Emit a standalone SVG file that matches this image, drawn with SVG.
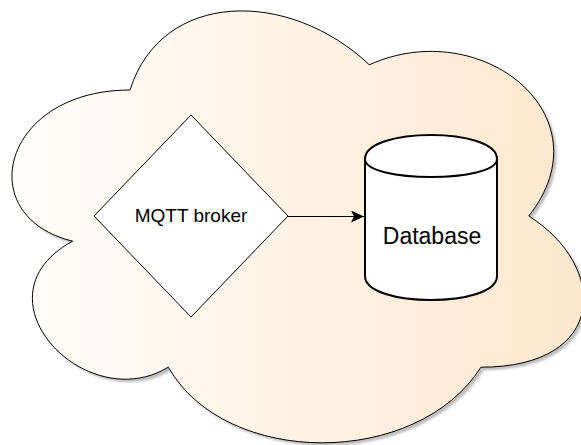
<svg xmlns="http://www.w3.org/2000/svg" width="581" height="445" viewBox="0 0 581 445">
  <defs>
    <linearGradient id="cloudGrad" gradientUnits="userSpaceOnUse" x1="-29.5" y1="0" x2="608.5" y2="0">
      <stop offset="0" stop-color="#FFFFFF"/>
      <stop offset="1" stop-color="#FFE6CC"/>
    </linearGradient>
    <filter id="blur" x="-10%" y="-10%" width="120%" height="120%">
      <feGaussianBlur stdDeviation="1"/>
    </filter>
    <marker id="arrow" markerUnits="userSpaceOnUse" markerWidth="14" markerHeight="14" refX="13" refY="6" orient="auto">
      <path d="M0,0 L13,6 L0,12 L3,6 Z" fill="#000000"/>
    </marker>
    <path id="cloudPath" d="M130,90 C2.4,90 -29.5,216 72.6,241.2 C-29.5,296.6 85.3,417.6 168.3,367.2 C225.7,468 417.1,468 480.9,367.2 C608.5,367.2 608.5,266.4 528.8,216 C608.5,115.2 480.9,14.4 369.3,64.8 C289.5,-10.8 161.9,-10.8 130,90 Z"/>
  </defs>
  <style>
    .label { font-family: "Liberation Sans", Arial, Helvetica, sans-serif; fill: #000000; text-anchor: middle; }
    .shape { stroke: #000000; }
  </style>

  <g id="cloud">
    <use href="#cloudPath" transform="translate(3,3)" fill="#000000" fill-opacity="0.25" filter="url(#blur)"/>
    <use href="#cloudPath" fill="url(#cloudGrad)" stroke="#000000" stroke-width="1"/>
  </g>

  <g id="connectors">
    <line x1="288" y1="216.5" x2="364" y2="216.5" stroke="#000000" stroke-width="1" marker-end="url(#arrow)"/>
  </g>

  <g id="mqtt-broker">
    <polygon class="shape" points="94,216 191,115 288,216 191,317" fill="#FFFFFF" stroke-width="1"/>
    <text class="label" x="191" y="222" font-size="19">MQTT broker</text>
  </g>

  <g id="database">
    <path class="shape" d="M365,159 C365,127 497,127 497,159 L497,276 C497,308 365,308 365,276 Z" fill="#FFFFFF" stroke-width="2"/>
    <path class="shape" d="M365,159 C365,183 497,183 497,159" fill="none" stroke-width="2"/>
    <text class="label" x="432" y="244" font-size="23">Database</text>
  </g>
</svg>
